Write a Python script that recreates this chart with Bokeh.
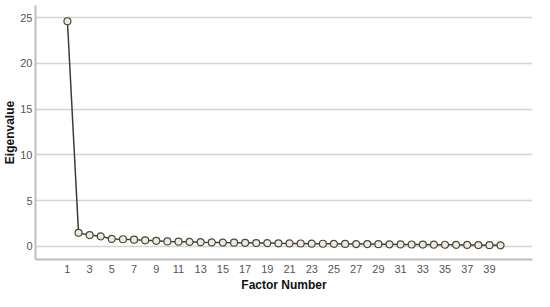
from bokeh.plotting import figure
from bokeh.models import FixedTicker, Range1d, Title
from bokeh.embed import file_html
from bokeh.resources import INLINE

factors = list(range(1, 41))
eigenvalues = [24.6, 1.48, 1.24, 1.10, 0.82, 0.78, 0.74, 0.67, 0.61, 0.55,
               0.52, 0.50, 0.46, 0.44, 0.42, 0.41, 0.39, 0.37, 0.36, 0.34,
               0.33, 0.32, 0.30, 0.29, 0.28, 0.27, 0.26, 0.25, 0.24, 0.23,
               0.22, 0.21, 0.20, 0.19, 0.18, 0.17, 0.16, 0.15, 0.14, 0.12]
x_ticks = list(range(1, 40, 2))
y_ticks = [0, 5, 10, 15, 20, 25]
x_title = "Factor Number"
y_title = "Eigenvalue"

p = figure(width=534, height=291, output_backend="svg", toolbar_location=None,
           x_range=Range1d(-1.875, 42.875), y_range=Range1d(-1.43, 26.32),
           min_border_left=26, min_border_right=2, min_border_top=5,
           min_border_bottom=2)
p.outline_line_color = None
p.background_fill_color = "white"
p.border_fill_color = "white"

p.line(factors, eigenvalues, line_color="#3c3c3c", line_width=1.5)
p.scatter(factors, eigenvalues, size=7, fill_color="#efeadb",
          line_color="#4a4a3a", line_width=1.2)

for ax in (p.xaxis, p.yaxis):
    ax.axis_line_color = "#bdbdbd"
    ax.axis_line_width = 2
    ax.major_tick_line_color = None
    ax.minor_tick_line_color = None
    ax.major_tick_out = 0
    ax.major_tick_in = 0
    ax.minor_tick_out = 0
    ax.minor_tick_in = 0
    ax.major_label_text_font = "Liberation Sans"
    ax.major_label_text_font_size = "11px"
    ax.major_label_text_color = "#555555"
    ax.axis_label_text_font = "Liberation Sans"
    ax.axis_label_text_font_style = "bold"
    ax.axis_label_text_font_size = "12px"
    ax.axis_label_text_color = "#111111"

p.xaxis.ticker = FixedTicker(ticks=x_ticks)
p.yaxis.ticker = FixedTicker(ticks=y_ticks)
p.yaxis.axis_label = y_title
p.xaxis.major_label_standoff = 5
p.yaxis.major_label_standoff = 3
p.yaxis.axis_label_standoff = 0

p.add_layout(Title(text=x_title, align="center", text_font="Liberation Sans",
                   text_font_style="bold", text_font_size="12px",
                   text_color="#111111", standoff=0, offset=0), "below")

p.xgrid.grid_line_color = None
p.ygrid.grid_line_color = "#d4d4d4"
p.ygrid.grid_line_width = 1.5

open("out.html", "w").write(file_html(p, INLINE))
